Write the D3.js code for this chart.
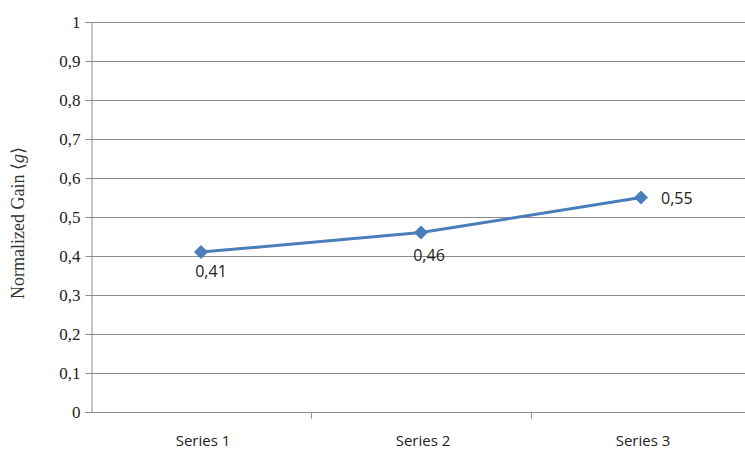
<!DOCTYPE html>
<html>
<head>
<meta charset="utf-8">
<script src="https://cdn.jsdelivr.net/npm/d3@7"></script>
<style>
  html, body { margin: 0; padding: 0; background: #fff; }
  svg { display: block; }
</style>
</head>
<body>
<svg id="chart" width="745" height="454"></svg>
<script>
// Normalized gain per series
const categories = ["Series 1", "Series 2", "Series 3"];
const gainValues = [0.41, 0.46, 0.55];
const gainLabels = ["0,41", "0,46", "0,55"];
const yTickValues = [0, 0.1, 0.2, 0.3, 0.4, 0.5, 0.6, 0.7, 0.8, 0.9, 1];
const yTickLabels = ["0", "0,1", "0,2", "0,3", "0,4", "0,5", "0,6", "0,7", "0,8", "0,9", "1"];

const svg = d3.select("#chart");
const margin = { left: 91, top: 22, right: -6, bottom: 42 };
const W = 745, H = 454;
const plotRight = W - margin.right;
const plotBottom = H - margin.bottom;

const x = d3.scaleBand().domain(categories).range([margin.left, plotRight]);
const y = d3.scaleLinear().domain([0, 1]).range([plotBottom, margin.top]);

const gridColor = "#8c8c8c";

// Horizontal gridlines
svg.append("g")
  .selectAll("line")
  .data(yTickValues.filter(v => v > 0))
  .join("line")
  .attr("x1", margin.left)
  .attr("x2", plotRight)
  .attr("y1", d => Math.round(y(d)) + 0.5)
  .attr("y2", d => Math.round(y(d)) + 0.5)
  .attr("stroke", gridColor)
  .attr("stroke-width", 1);

// Y axis
const yAxis = svg.append("g")
  .attr("transform", `translate(${margin.left + 0.5},0)`)
  .call(d3.axisLeft(y).tickValues(yTickValues)
    .tickFormat((d, i) => yTickLabels[i]).tickSize(6).tickPadding(5));
yAxis.select(".domain").attr("stroke", gridColor);
yAxis.selectAll(".tick line").attr("stroke", gridColor);
yAxis.selectAll(".tick text")
  .attr("fill", "#222")
  .style("font-family", "'Liberation Serif', 'Times New Roman', serif")
  .style("font-size", "17px");
yAxis.selectAll(".tick").attr("transform", d => `translate(0,${Math.round(y(d)) + 0.5})`);

// X axis (category boundaries as ticks)
const xAxisG = svg.append("g")
  .attr("transform", `translate(0,${Math.round(plotBottom) + 0.5})`);
xAxisG.append("line")
  .attr("x1", margin.left).attr("x2", plotRight)
  .attr("stroke", gridColor);
xAxisG.selectAll("line.tick")
  .data(categories.slice(1))
  .join("line")
  .attr("class", "tick")
  .attr("x1", d => Math.round(x(d)) + 0.5)
  .attr("x2", d => Math.round(x(d)) + 0.5)
  .attr("y1", 0).attr("y2", 6)
  .attr("stroke", gridColor);
xAxisG.selectAll("text")
  .data(categories)
  .join("text")
  .attr("x", d => x(d) + x.bandwidth() / 2 + 2)
  .attr("y", 33)
  .attr("text-anchor", "middle")
  .attr("fill", "#222")
  .style("font-family", "'Open Sans', 'Liberation Sans', sans-serif")
  .style("font-size", "15px")
  .text(d => d);

// Y axis title
const yTitle = svg.append("text")
  .attr("transform", `translate(24,${(margin.top + plotBottom) / 2 + 6}) rotate(-90)`)
  .attr("text-anchor", "middle")
  .attr("fill", "#333")
  .style("font-family", "'Liberation Serif', 'Times New Roman', serif")
  .style("font-size", "18px");
yTitle.append("tspan").text("Normalized Gain \u27E8");
yTitle.append("tspan").style("font-style", "italic").text("g");
yTitle.append("tspan").text("\u27E9");

// Line and markers
const lineColor = "#4a7ebb";
const pts = categories.map((c, i) => ({ c, v: gainValues[i], label: gainLabels[i] }));
const cx = d => x(d.c) + x.bandwidth() / 2;

svg.append("path")
  .datum(pts)
  .attr("fill", "none")
  .attr("stroke", lineColor)
  .attr("stroke-width", 3)
  .attr("stroke-linejoin", "round")
  .attr("d", d3.line().x(cx).y(d => y(d.v)));

svg.append("g")
  .selectAll("path")
  .data(pts)
  .join("path")
  .attr("transform", d => `translate(${cx(d)},${y(d.v)})`)
  .attr("d", "M0,-7L7,0L0,7L-7,0Z")
  .attr("fill", lineColor);

// Data labels
const labelOffsets = [
  { dx: 10, dy: 25, anchor: "middle" },
  { dx: 8, dy: 28, anchor: "middle" },
  { dx: 20, dy: 6, anchor: "start" }
];
svg.append("g")
  .selectAll("text")
  .data(pts)
  .join("text")
  .attr("x", (d, i) => cx(d) + labelOffsets[i].dx)
  .attr("y", (d, i) => y(d.v) + labelOffsets[i].dy)
  .attr("text-anchor", (d, i) => labelOffsets[i].anchor)
  .attr("fill", "#222")
  .style("font-family", "'Open Sans', 'Liberation Sans', sans-serif")
  .style("font-size", "16px")
  .text(d => d.label);
</script>
</body>
</html>
